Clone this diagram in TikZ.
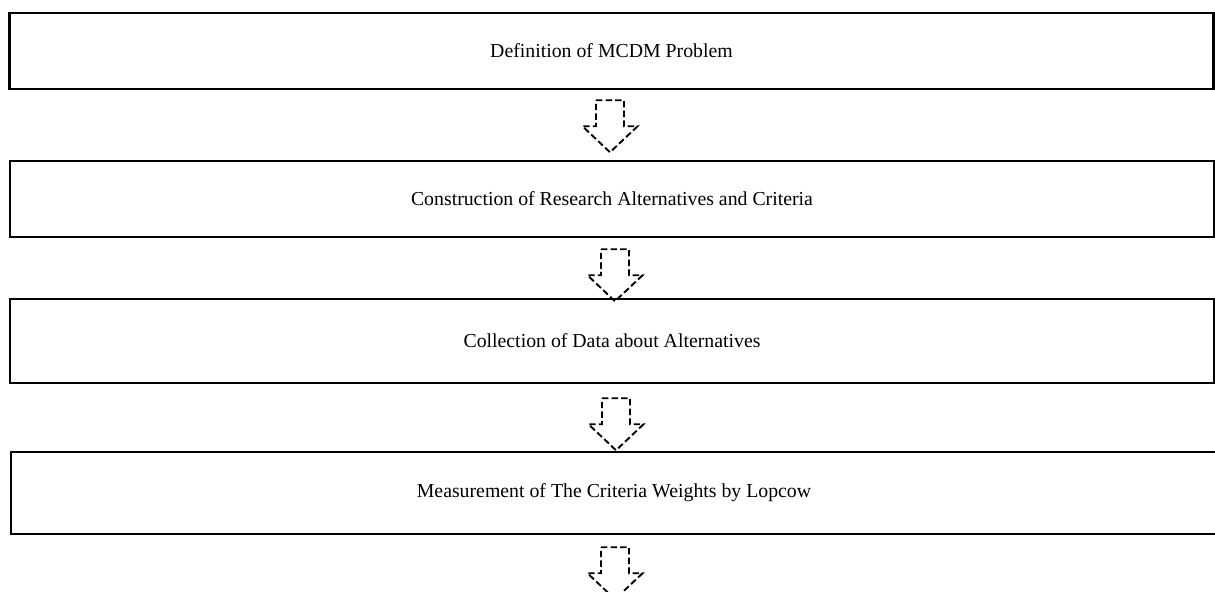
\documentclass[tikz,border=0pt]{standalone}
\usepackage{fontspec}
\setmainfont{Liberation Serif}
\usetikzlibrary{positioning}

\tikzset{
  stepbox/.style={draw, line width=1.3pt, minimum width=602pt, minimum height=38pt,
    inner sep=0pt, font=\fontsize{9.9}{12}\selectfont},
  flowarrow/.pic={
    \draw[line width=0.95pt, dash pattern=on 3.2pt off 1.6pt, line join=miter]
      (-14,0) -- (14,0) -- (14,26) -- (27.5,26) -- (0,52) -- (-27.5,26) -- (-14,26) -- cycle;
  }
}

\begin{document}
\begin{tikzpicture}[x=0.5pt, y=-0.5pt]
    \useasboundingbox (0,0) rectangle (1215,592);

    \node[stepbox] (def)  at (611.5,51) {Definition of MCDM Problem};
    \node[stepbox] (cons) at (612,199)  {Construction of Research Alternatives and Criteria};
    \node[stepbox, minimum height=42pt] (coll) at (612,341)
      {Collection of Data about Alternatives};
    \node[stepbox, minimum height=41pt, minimum width=603pt] (meas) at (614,493)
      {Measurement of The Criteria Weights by Lopcow};

    % dashed block arrows between the steps
    \path (def.south)  ++(-1.5,10) pic {flowarrow};
    \path (cons.south) ++(3,11)    pic {flowarrow};
    \path (coll.south) ++(4,14)    pic {flowarrow};
    \path (meas.south) ++(1,12)    pic {flowarrow};
\end{tikzpicture}
\end{document}
